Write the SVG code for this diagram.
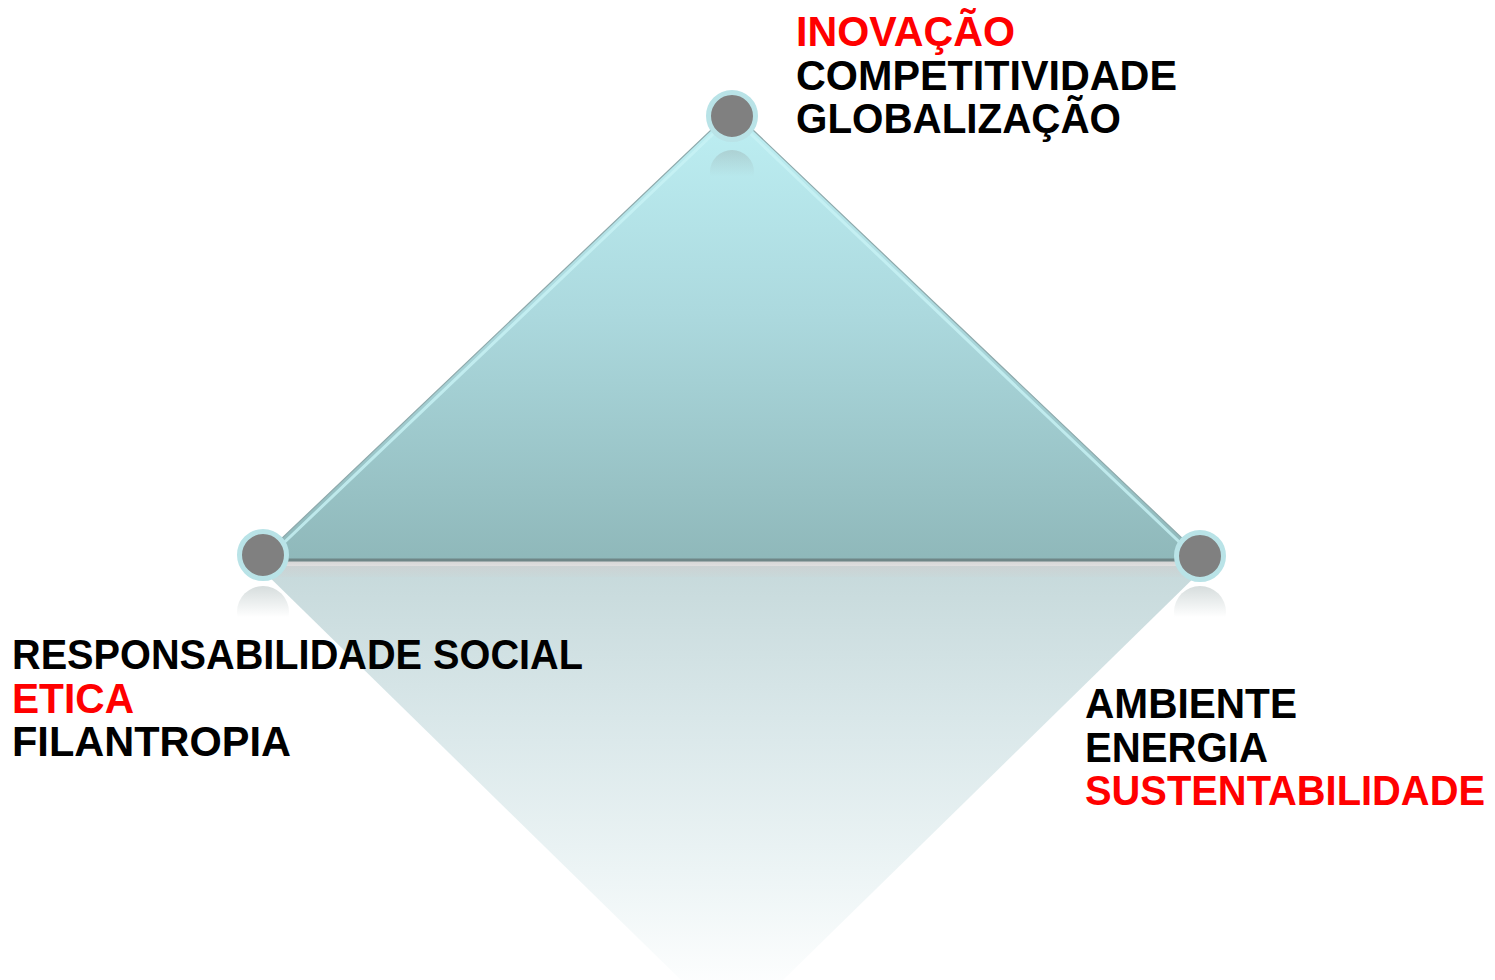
<svg xmlns="http://www.w3.org/2000/svg" width="1495" height="980" viewBox="0 0 1495 980">
<style>
.lbl{font-family:"Liberation Sans",Arial,sans-serif;font-weight:bold;font-size:43px;fill:#000}
.red{fill:#ff0000}
.dot{fill:#808080;stroke:#b9e3e7;stroke-width:5}
.edge{fill:none;stroke:#8ea9ab;stroke-width:1.2}
.hl{fill:none;stroke:#c8f2f5;stroke-width:3;stroke-opacity:0.8}
</style>
<defs>
<linearGradient id="triFill" x1="0" y1="110" x2="0" y2="561" gradientUnits="userSpaceOnUse">
<stop offset="0" stop-color="#bdeff3"/>
<stop offset="0.45" stop-color="#acd9de"/>
<stop offset="1" stop-color="#8fb8ba"/>
</linearGradient>
<linearGradient id="reflFill" x1="0" y1="566" x2="0" y2="1000" gradientUnits="userSpaceOnUse">
<stop offset="0" stop-color="#c6d9db"/>
<stop offset="0.35" stop-color="#d9e7e9"/>
<stop offset="0.7" stop-color="#ecf4f5"/>
<stop offset="1" stop-color="#ffffff"/>
</linearGradient>
<linearGradient id="shade" x1="0" y1="561" x2="0" y2="580" gradientUnits="userSpaceOnUse">
<stop offset="0" stop-color="#cfcfcf" stop-opacity="0.9"/>
<stop offset="1" stop-color="#cfcfcf" stop-opacity="0"/>
</linearGradient>
<linearGradient id="dotRefl" x1="0" y1="0" x2="0" y2="1">
<stop offset="0" stop-color="#9aa" stop-opacity="0.4"/>
<stop offset="0.6" stop-color="#9aa" stop-opacity="0"/>
</linearGradient>
</defs>

<g id="reflection">
<polygon points="258,566 1206,566 732,1030" fill="url(#reflFill)"/>
<rect x="262" y="561" width="940" height="16" fill="url(#shade)"/>
<circle cx="263" cy="612" r="26" fill="url(#dotRefl)"/>
<circle cx="1200" cy="612" r="26" fill="url(#dotRefl)"/>
</g>

<g id="triangle">
<polygon points="732,110 258,561 1206,561" fill="url(#triFill)"/>
<circle cx="732" cy="172" r="22" fill="url(#dotRefl)"/>
</g>

<g id="connectors">
<polyline class="hl" points="270,556 732,116 1194,556"/>
<polyline class="edge" points="258,561 732,110 1206,561"/>
<line x1="262" y1="560" x2="1202" y2="560" stroke="#6f8687" stroke-width="3"/>
</g>

<g id="node-top">
<circle class="dot" cx="732" cy="116" r="23.5"/>
<text class="lbl red" x="796" y="46" textLength="219" lengthAdjust="spacingAndGlyphs">INOVAÇÃO</text>
<text class="lbl" x="796" y="89.5" textLength="381" lengthAdjust="spacingAndGlyphs">COMPETITIVIDADE</text>
<text class="lbl" x="796" y="133" textLength="325" lengthAdjust="spacingAndGlyphs">GLOBALIZAÇÃO</text>
</g>

<g id="node-left">
<circle class="dot" cx="263" cy="555" r="23.5"/>
<text class="lbl" x="12" y="669" textLength="571" lengthAdjust="spacingAndGlyphs">RESPONSABILIDADE SOCIAL</text>
<text class="lbl red" x="12" y="712.5" textLength="122" lengthAdjust="spacingAndGlyphs">ETICA</text>
<text class="lbl" x="12" y="756" textLength="279" lengthAdjust="spacingAndGlyphs">FILANTROPIA</text>
</g>

<g id="node-right">
<circle class="dot" cx="1200" cy="556" r="23.5"/>
<text class="lbl" x="1085" y="718" textLength="212" lengthAdjust="spacingAndGlyphs">AMBIENTE</text>
<text class="lbl" x="1085" y="761.5" textLength="183" lengthAdjust="spacingAndGlyphs">ENERGIA</text>
<text class="lbl red" x="1085" y="805" textLength="400" lengthAdjust="spacingAndGlyphs">SUSTENTABILIDADE</text>
</g>
</svg>
